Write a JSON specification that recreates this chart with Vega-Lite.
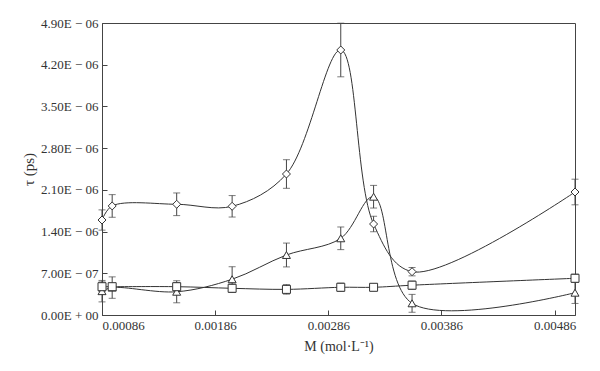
{
  "$schema": "https://vega.github.io/schema/vega-lite/v6.json",
  "autosize": "none",
  "width": 473,
  "height": 292,
  "padding": {"left": 102, "top": 23, "right": 25, "bottom": 56},
  "background": "white",
  "config": {
    "font": "Liberation Serif",
    "view": {"stroke": "#444", "strokeWidth": 1},
    "axis": {
      "grid": false,
      "domainColor": "#444",
      "tickColor": "#444",
      "labelColor": "#333",
      "titleColor": "#333",
      "labelFont": "Liberation Serif",
      "titleFont": "Liberation Serif",
      "labelFontSize": 13,
      "titleFontSize": 14,
      "titleFontWeight": "normal",
      "tickSize": -5,
      "labelPadding": 9
    }
  },
  "data": {
    "values": [
      {"M": 0.00086, "tau": 1.594e-6, "err": 0.17e-6, "s": "A"},
      {"M": 0.00095, "tau": 1.83e-6, "err": 0.19e-6, "s": "A"},
      {"M": 0.00152, "tau": 1.858e-6, "err": 0.19e-6, "s": "A"},
      {"M": 0.00201, "tau": 1.824e-6, "err": 0.18e-6, "s": "A"},
      {"M": 0.00249, "tau": 2.366e-6, "err": 0.24e-6, "s": "A"},
      {"M": 0.00297, "tau": 4.447e-6, "err": 0.45e-6, "s": "A"},
      {"M": 0.00326, "tau": 1.527e-6, "err": 0.13e-6, "s": "A"},
      {"M": 0.0036, "tau": 0.727e-6, "err": 0.07e-6, "s": "A"},
      {"M": 0.00504, "tau": 2.064e-6, "err": 0.215e-6, "s": "A"},
      {"M": 0.00086, "tau": 0.40e-6, "err": 0.18e-6, "s": "B"},
      {"M": 0.00095, "tau": 0.46e-6, "err": 0.18e-6, "s": "B"},
      {"M": 0.00152, "tau": 0.39e-6, "err": 0.185e-6, "s": "B"},
      {"M": 0.00201, "tau": 0.60e-6, "err": 0.21e-6, "s": "B"},
      {"M": 0.00249, "tau": 1.007e-6, "err": 0.2e-6, "s": "B"},
      {"M": 0.00297, "tau": 1.287e-6, "err": 0.19e-6, "s": "B"},
      {"M": 0.00326, "tau": 1.985e-6, "err": 0.19e-6, "s": "B"},
      {"M": 0.0036, "tau": 0.196e-6, "err": 0.15e-6, "s": "B"},
      {"M": 0.00504, "tau": 0.374e-6, "err": 0.18e-6, "s": "B"},
      {"M": 0.00086, "tau": 0.475e-6, "err": 0.08e-6, "s": "C"},
      {"M": 0.00095, "tau": 0.475e-6, "err": 0.06e-6, "s": "C"},
      {"M": 0.00152, "tau": 0.475e-6, "err": 0.07e-6, "s": "C"},
      {"M": 0.00201, "tau": 0.448e-6, "err": 0.07e-6, "s": "C"},
      {"M": 0.00249, "tau": 0.43e-6, "err": 0.08e-6, "s": "C"},
      {"M": 0.00297, "tau": 0.465e-6, "err": 0.07e-6, "s": "C"},
      {"M": 0.00326, "tau": 0.465e-6, "err": 0.06e-6, "s": "C"},
      {"M": 0.0036, "tau": 0.50e-6, "err": 0.07e-6, "s": "C"},
      {"M": 0.00504, "tau": 0.616e-6, "err": 0.07e-6, "s": "C"}
    ]
  },
  "encoding": {
    "x": {
      "field": "M",
      "type": "quantitative",
      "scale": {"domain": [0.00086, 0.00504], "nice": false, "zero": false},
      "axis": {
        "title": "M (mol·L⁻¹)",
        "values": [0.00086, 0.00186, 0.00286, 0.00386, 0.00486],
        "format": ".5f",
        "titlePadding": 7
      }
    },
    "y": {
      "field": "tau",
      "type": "quantitative",
      "scale": {"domain": [0, 4.9e-6], "nice": false},
      "axis": {
        "title": "τ (ps)",
        "titleFontSize": 15,
        "values": [0, 7e-7, 1.4e-6, 2.1e-6, 2.8e-6, 3.5e-6, 4.2e-6, 4.9e-6],
        "labelExpr": "datum.value == 0 ? '0.00E + 00' : (datum.value < 1e-6 ? format(datum.value * 1e7, '.2f') + 'E − 07' : format(datum.value * 1e6, '.2f') + 'E − 06')",
        "titlePadding": 4
      }
    }
  },
  "layer": [
    {
      "mark": {"type": "line", "interpolate": "catmull-rom", "color": "#333", "strokeWidth": 1},
      "encoding": {"detail": {"field": "s"}}
    },
    {
      "mark": {"type": "errorbar", "ticks": {"size": 7, "color": "#444"}, "rule": {"color": "#444", "strokeWidth": 1}},
      "encoding": {
        "yError": {"field": "err"},
        "detail": {"field": "s"}
      }
    },
    {
      "mark": {"type": "point", "filled": false, "fill": "white", "fillOpacity": 1, "stroke": "#333", "strokeWidth": 1, "opacity": 1, "size": 64},
      "encoding": {
        "shape": {
          "field": "s",
          "type": "nominal",
          "scale": {"domain": ["A", "B", "C"], "range": ["diamond", "triangle-up", "square"]},
          "legend": null
        }
      }
    }
  ]
}
